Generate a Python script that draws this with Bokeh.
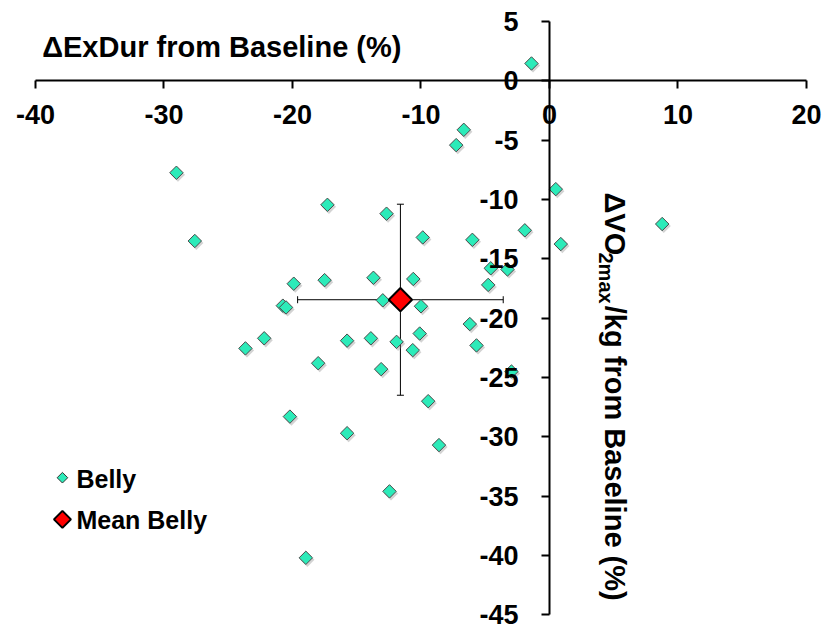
import numpy as np
from bokeh.plotting import figure
from bokeh.models import (ColumnDataSource, LinearAxis, Range1d, FixedTicker,
                          PrintfTickFormatter, Whisker, TeeHead, Label)
from bokeh.transform import dodge
from bokeh.embed import file_html
from bokeh.resources import INLINE

# Change in exercise duration (x) and VO2max/kg (y) from baseline, in %
exdur_change = [-1.4, -6.67, -7.26, -29.03, 0.49, -17.28, -12.68, 8.77, -1.92,
                -27.6, -9.86, -6.0, 0.88, -4.57, -3.27, -19.9, -17.5, -13.7,
                -10.6, -4.77, -12.97, -10.0, -20.75, -20.5, -6.2, -10.1, -22.2,
                -23.66, -15.75, -13.9, -11.9, -10.64, -5.68, -18.0, -13.1, -2.96,
                -9.44, -20.2, -15.75, -8.6, -12.45, -18.96]
vo2_change = [1.46, -4.13, -5.42, -7.75, -9.13, -10.45, -11.2, -12.07, -12.6,
              -13.5, -13.2, -13.4, -13.76, -15.8, -15.9, -17.1, -16.8, -16.6,
              -16.7, -17.2, -18.5, -19.0, -18.95, -19.1, -20.5, -21.3, -21.7,
              -22.55, -21.9, -21.7, -22.0, -22.7, -22.3, -23.8, -24.3, -24.5,
              -27.0, -28.3, -29.7, -30.7, -34.6, -40.2]

# Group mean with +/- SD bars
mean_exdur = -11.6
mean_vo2 = -18.45
sd_exdur = 8.0
sd_vo2 = 8.05

x_ticks = [-40, -30, -20, -10, 0, 10, 20]
y_ticks = [-45, -40, -35, -30, -25, -20, -15, -10, -5, 0, 5]
legend_labels = ["Belly", "Mean Belly"]

FONT = "Liberation Sans"
TEAL = "#2CEBB9"

# The frame fills the canvas so the tick labels at the axis ends are not clipped;
# the axis lines themselves stop at the tick range.
p = figure(frame_width=826, frame_height=631,
           x_range=Range1d(-42.72, 21.556), y_range=Range1d(-46.41, 6.767),
           x_axis_type=None, y_axis_type=None,
           toolbar_location=None, output_backend="svg",
           min_border_left=0, min_border_right=0,
           min_border_top=0, min_border_bottom=0)
p.outline_line_color = None
p.background_fill_color = "white"
p.border_fill_color = "white"

# Axes crossing at the origin
def style_axis(ax, standoff):
    ax.axis_line_width = 2
    ax.axis_line_color = "black"
    ax.major_tick_line_width = 2
    ax.major_tick_line_color = "black"
    ax.major_tick_out = 8
    ax.major_tick_in = 0
    ax.minor_tick_out = 0
    ax.minor_tick_in = 0
    ax.formatter = PrintfTickFormatter(format="%d")
    ax.major_label_text_font = FONT
    ax.major_label_text_font_style = "bold"
    ax.major_label_text_font_size = "27px"
    ax.major_label_text_color = "black"
    ax.major_label_standoff = standoff

xaxis = LinearAxis(fixed_location=0, ticker=FixedTicker(ticks=x_ticks),
                   bounds=(x_ticks[0], x_ticks[-1]))
style_axis(xaxis, 16)
p.add_layout(xaxis, "below")

yaxis = LinearAxis(fixed_location=0, ticker=FixedTicker(ticks=y_ticks),
                   bounds=(y_ticks[0], y_ticks[-1]))
style_axis(yaxis, 23)
p.add_layout(yaxis, "left")

# SD bars around the mean
mean_src = ColumnDataSource(dict(
    x=[mean_exdur], y=[mean_vo2],
    xl=[mean_exdur - sd_exdur], xu=[mean_exdur + sd_exdur],
    yl=[mean_vo2 - sd_vo2], yu=[mean_vo2 + sd_vo2]))

p.add_layout(Whisker(source=mean_src, base="y", lower="xl", upper="xu",
                     dimension="width", line_width=1, line_color="black",
                     upper_head=TeeHead(size=7, line_width=1),
                     lower_head=TeeHead(size=7, line_width=1)))
p.add_layout(Whisker(source=mean_src, base="x", lower="yl", upper="yu",
                     dimension="height", line_width=1, line_color="black",
                     upper_head=TeeHead(size=7, line_width=1),
                     lower_head=TeeHead(size=7, line_width=1)))

# Individual subjects, with a soft drop shadow
pts = ColumnDataSource(dict(x=exdur_change, y=vo2_change))
p.scatter(x=dodge("x", 0.12, range=p.x_range), y=dodge("y", -0.17, range=p.y_range),
          source=pts, marker="square", angle=np.pi / 4, size=10,
          fill_color="#808080", fill_alpha=0.35, line_color=None)
p.scatter("x", "y", source=pts, marker="square", angle=np.pi / 4,
          size=9.5, fill_color=TEAL, line_color="#4a4a4a", line_width=1)

p.scatter("x", "y", source=mean_src, marker="square", angle=np.pi / 4,
          size=16.5, fill_color="#FF0000", line_color="black", line_width=2)

# Legend (rotated-square swatches, kept in the lower-left corner)
key_src = ColumnDataSource(dict(
    x=[-37.9, -37.9], y=[-33.45, -36.96], size=[7.5, 12],
    fill=[TEAL, "#FF0000"], line=["#333333", "black"], lw=[1, 2]))
p.scatter("x", "y", source=key_src, marker="square", angle=np.pi / 4,
          size="size", fill_color="fill", line_color="line", line_width="lw")
for label, ty in zip(legend_labels, [-33.56, -37.0]):
    p.add_layout(Label(x=-36.81, y=ty, text=label, text_align="left",
                       text_baseline="alphabetic", text_color="black",
                       text_font=FONT, text_font_style="bold", text_font_size="25px"))

# Axis titles
p.add_layout(Label(x=-25.5, y=2.84, text="ΔExDur from Baseline (%)",
                   text_align="center", text_baseline="alphabetic", text_color="black",
                   text_font=FONT, text_font_style="bold", text_font_size="29px"))

rot = -np.pi / 2
p.add_layout(Label(x=5.09, y=-9.41, text="ΔVO", angle=rot,
                   text_align="left", text_baseline="alphabetic", text_color="black",
                   text_font=FONT, text_font_style="bold", text_font_size="29px"))
p.add_layout(Label(x=4.40, y=-14.47, text="2max", angle=rot,
                   text_align="left", text_baseline="alphabetic", text_color="black",
                   text_font=FONT, text_font_style="bold", text_font_size="20px"))
p.add_layout(Label(x=5.09, y=-18.96, text="/kg from  Baseline (%)", angle=rot,
                   text_align="left", text_baseline="alphabetic", text_color="black",
                   text_font=FONT, text_font_style="bold", text_font_size="29px"))

open("out.html", "w").write(file_html(p, INLINE))
